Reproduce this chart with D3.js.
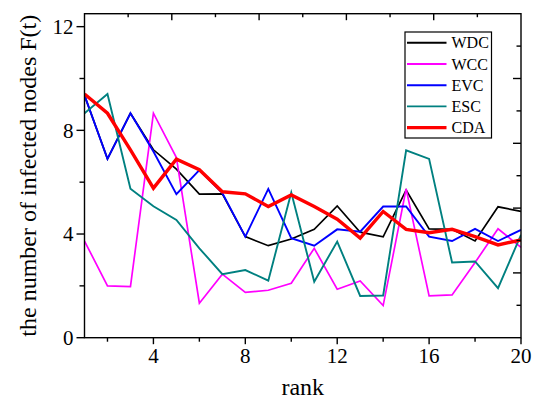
<!DOCTYPE html>
<html>
<head>
<meta charset="utf-8">
<script src="https://cdn.jsdelivr.net/npm/d3@7"></script>
<style>
  html, body { margin: 0; padding: 0; background: #fff; }
  svg { display: block; }
</style>
</head>
<body>
<svg id="chart" width="539" height="409"></svg>
<script>
// rank positions on the x axis
const ranks = [1, 2, 3, 4, 5, 6, 7, 8, 9, 10, 11, 12, 13, 14, 15, 16, 17, 18, 19, 20];

// number of infected nodes F(t) per ranking method
const WDC = [9.35, 6.90, 8.66, 7.25, 6.50, 5.54, 5.55, 3.90, 3.55, 3.81, 4.18, 5.08, 4.07, 3.89, 5.70, 4.20, 4.18, 3.73, 5.05, 4.87];
const WCC = [3.73, 2.00, 1.97, 8.66, 6.95, 1.33, 2.45, 1.75, 1.83, 2.10, 3.45, 1.87, 2.19, 1.24, 5.74, 1.61, 1.65, 2.90, 4.20, 3.49];
const EVC = [9.35, 6.90, 8.66, 7.18, 5.54, 6.47, 5.58, 3.90, 5.74, 3.84, 3.55, 4.18, 4.09, 5.06, 5.06, 3.90, 3.73, 4.20, 3.73, 4.16];
const ESC = [8.66, 9.40, 5.75, 5.07, 4.54, 3.45, 2.45, 2.61, 2.20, 5.60, 2.16, 3.71, 1.61, 1.63, 7.23, 6.90, 2.90, 2.94, 1.91, 3.97];
const CDA = [9.40, 8.66, 7.25, 5.77, 6.89, 6.48, 5.63, 5.55, 5.06, 5.51, 5.06, 4.57, 3.84, 4.87, 4.18, 4.05, 4.18, 3.90, 3.58, 3.77];

const seriesNames = ["WDC", "WCC", "EVC", "ESC", "CDA"];
const seriesColors = ["#000000", "#ff00ff", "#0000ff", "#008080", "#ff0000"];
const seriesWidths = [1.7, 1.7, 1.9, 1.9, 3.4];

// tick values
const xTicks = [2, 4, 6, 8, 10, 12, 14, 16, 18, 20];
const xTickLabels = [4, 8, 12, 16, 20];
const yTicks = [0, 2, 4, 6, 8, 10, 12];
const yTickLabels = [0, 4, 8, 12];

const series = [WDC, WCC, EVC, ESC, CDA].map((vals, i) => ({
  name: seriesNames[i], color: seriesColors[i], width: seriesWidths[i],
  points: ranks.map((r, j) => ({ r, v: vals[j] }))
}));

const FONT = "Liberation Serif";
const svg = d3.select("#chart").attr("font-family", FONT);
const L = 84.5, R = 521, T = 13.7, B = 337.7;

const x = d3.scaleLinear().domain([1, 20]).range([L, R]);
const y = d3.scaleLinear().domain([0, 12.5]).range([B, T]);
// top and right frame ticks are evenly spaced in ten steps
const xTop = d3.scaleLinear().domain([0, 10]).range([L, R]);
const yRight = d3.scaleLinear().domain([0, 10]).range([B, T]);

svg.append("rect").attr("width", 539).attr("height", 409).attr("fill", "#fff");

const plot = svg.append("g");
plot.append("clipPath").attr("id", "clip")
  .append("rect").attr("x", L).attr("y", T).attr("width", R - L).attr("height", B - T);

const line = d3.line().x(d => x(d.r)).y(d => y(d.v));
const lines = plot.append("g").attr("clip-path", "url(#clip)");
series.forEach(s => {
  lines.append("path")
    .datum(s.points)
    .attr("d", line)
    .attr("fill", "none")
    .attr("stroke", s.color)
    .attr("stroke-width", s.width)
    .attr("stroke-linejoin", "miter");
});

// frame
const axes = svg.append("g").attr("stroke", "#000").attr("stroke-width", 1.4);
axes.append("rect").attr("x", L).attr("y", T).attr("width", R - L).attr("height", B - T)
  .attr("fill", "none");

// bottom ticks (outward)
xTicks.forEach(t => {
  const major = xTickLabels.includes(t);
  axes.append("line").attr("x1", x(t)).attr("x2", x(t))
    .attr("y1", B).attr("y2", B + (major ? 6.5 : 4));
});
// left ticks (outward)
yTicks.forEach(t => {
  const major = yTickLabels.includes(t);
  axes.append("line").attr("y1", y(t)).attr("y2", y(t))
    .attr("x1", L).attr("x2", L - (major ? 8 : 5));
});
// top ticks (inward)
d3.range(1, 10).forEach(t => {
  axes.append("line").attr("x1", xTop(t)).attr("x2", xTop(t))
    .attr("y1", T).attr("y2", T + (t % 2 === 0 ? 6.5 : 3.5));
});
// right ticks (inward)
d3.range(1, 10).forEach(t => {
  axes.append("line").attr("y1", yRight(t)).attr("y2", yRight(t))
    .attr("x1", R).attr("x2", R - (t % 2 === 0 ? 8 : 4.5));
});

// tick labels
const labels = svg.append("g").attr("font-size", 21).attr("font-family", FONT);
xTickLabels.forEach(t => {
  labels.append("text").attr("x", x(t)).attr("y", 363)
    .attr("text-anchor", "middle").text(t);
});
yTickLabels.forEach(t => {
  labels.append("text").attr("x", 73.5).attr("y", y(t) + 7.3)
    .attr("text-anchor", "end").text(t);
});

// axis titles
svg.append("text").attr("x", (L + R) / 2).attr("y", 395)
  .attr("text-anchor", "middle").attr("font-size", 24).attr("font-family", FONT)
  .text("rank");
svg.append("text")
  .attr("transform", `translate(36,${(T + B) / 2}) rotate(-90)`)
  .attr("text-anchor", "middle").attr("font-size", 24).attr("font-family", FONT)
  .text("the number of infected nodes F(t)");

// legend
const leg = svg.append("g");
leg.append("rect").attr("x", 405).attr("y", 32).attr("width", 86.5).attr("height", 106)
  .attr("fill", "#fff").attr("stroke", "#000").attr("stroke-width", 1.2);
series.forEach((s, i) => {
  const ry = 42.8 + i * 21.2;
  leg.append("line").attr("x1", 407).attr("x2", 446.5).attr("y1", ry).attr("y2", ry)
    .attr("stroke", s.color).attr("stroke-width", s.name === "CDA" ? 3.4 : 1.9);
  leg.append("text").attr("x", 451.5).attr("y", ry + 5.6)
    .attr("font-size", 16).attr("font-family", FONT).text(s.name);
});
</script>
</body>
</html>
